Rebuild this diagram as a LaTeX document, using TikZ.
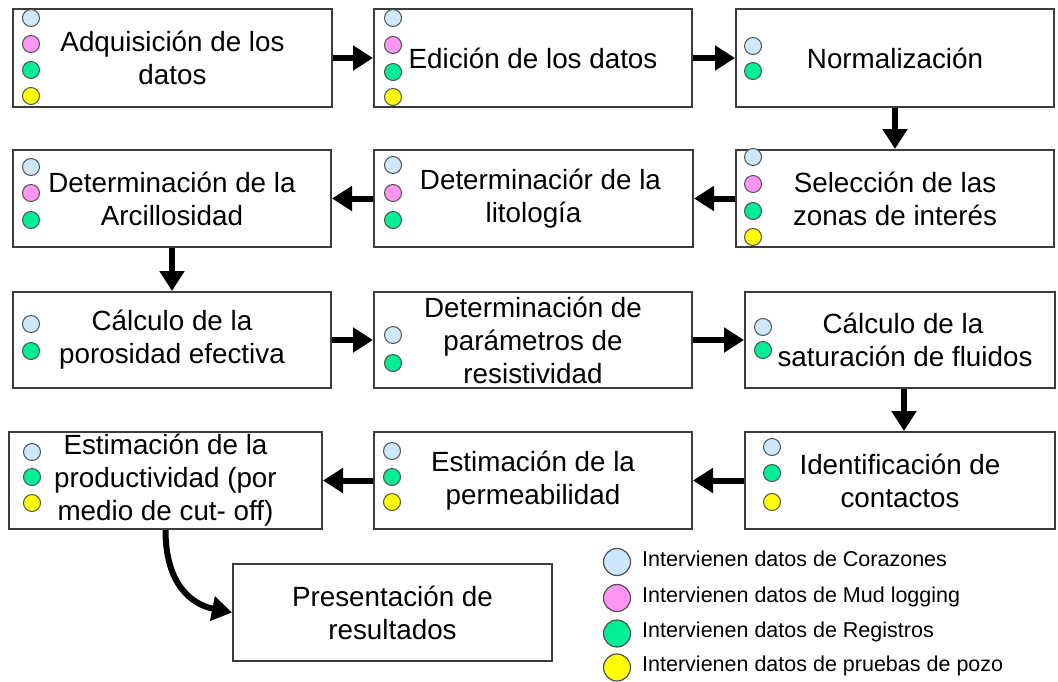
\documentclass[tikz,border=0pt]{standalone}
\usepackage{fontspec}
\setmainfont{Liberation Sans}
\usetikzlibrary{arrows.meta}
\definecolor{boxgray}{RGB}{60,60,60}
\definecolor{dotgray}{RGB}{80,80,80}
\definecolor{cb}{RGB}{205,232,250}
\definecolor{cp}{RGB}{255,150,245}
\definecolor{cg}{RGB}{0,238,150}
\definecolor{cy}{RGB}{255,255,0}
\tikzset{
  stepbox/.style={draw=boxgray, line width=2pt, fill=white, inner sep=0pt, align=center,
    font=\fontsize{27.8}{33}\selectfont},
  dot/.style={circle, draw=dotgray, line width=1pt, minimum size=17pt, inner sep=0pt},
  bigdot/.style={circle, draw=dotgray, line width=1.2pt, minimum size=27pt, inner sep=0pt},
  legtext/.style={anchor=base west, inner sep=0pt, font=\fontsize{21.5}{25}\selectfont},
  arr/.style={line width=6pt, -{Triangle[length=20pt,width=24pt]}},
}
\begin{document}
\begin{tikzpicture}[x=1pt,y=-1pt]
\useasboundingbox (0,0) rectangle (1058,681);
% boxes
\node[stepbox, minimum width=319pt, minimum height=98pt] (A1) at (172.5,58) {Adquisición de los\\datos};
\node[stepbox, minimum width=318pt, minimum height=98pt] (A2) at (533,58) {Edición de los datos};
\node[stepbox, minimum width=318pt, minimum height=98pt] (A3) at (895,58) {Normalización};
\node[stepbox, minimum width=318pt, minimum height=97pt] (B3) at (895,198.5) {Selección de las\\zonas de interés};
\node[stepbox, minimum width=319pt, minimum height=97pt] (B2) at (533.5,198.5) {\hspace*{14pt}Determinaciór de la\\litología};
\node[stepbox, minimum width=318pt, minimum height=97pt] (B1) at (172,198.5) {Determinación de la\\Arcillosidad};
\node[stepbox, minimum width=318pt, minimum height=96pt] (C1) at (172,340) {Cálculo de la\\porosidad efectiva};
\node[stepbox, minimum width=318pt, minimum height=96pt] (C2) at (533,340) {Determinación de\\parámetros de\\resistividad};
\node[stepbox, minimum width=310pt, minimum height=96pt] (C3) at (900,340) {\hspace*{6pt}Cálculo de la\\\hspace*{10pt}saturación de fluidos};
\node[stepbox, minimum width=310pt, minimum height=97pt] (D3) at (900,480.5) {Identificación de\\contactos};
\node[stepbox, minimum width=318pt, minimum height=97pt] (D2) at (533,480.5) {Estimación de la\\permeabilidad};
\node[stepbox, minimum width=313pt, minimum height=97pt] (D1) at (165.5,480.5) {Estimación de la\\productividad (por\\medio de cut- off)};
\node[stepbox, minimum width=319pt, minimum height=97pt] (E) at (392.5,612.5) {Presentación de\\resultados};
% dots
\node[dot, fill=cb] (A1b) at (31,18) {};
\node[dot, fill=cp] (A1p) at (31,44) {};
\node[dot, fill=cg] (A1g) at (31,70) {};
\node[dot, fill=cy] (A1y) at (31,96) {};
\node[dot, fill=cb] (A2b) at (393,18) {};
\node[dot, fill=cp] (A2p) at (393,45) {};
\node[dot, fill=cg] (A2g) at (393,72) {};
\node[dot, fill=cy] (A2y) at (393,97) {};
\node[dot, fill=cb] (A3b) at (753,46) {};
\node[dot, fill=cg] (A3g) at (753,71) {};
\node[dot, fill=cb] (B3b) at (753,157) {};
\node[dot, fill=cp] (B3p) at (753,184) {};
\node[dot, fill=cg] (B3g) at (753,211) {};
\node[dot, fill=cy] (B3y) at (753,237) {};
\node[dot, fill=cb] (B2b) at (393,165) {};
\node[dot, fill=cp] (B2p) at (393,193) {};
\node[dot, fill=cg] (B2g) at (393,220) {};
\node[dot, fill=cb] (B1b) at (31,167) {};
\node[dot, fill=cp] (B1p) at (31,193) {};
\node[dot, fill=cg] (B1g) at (31,220) {};
\node[dot, fill=cb] (C1b) at (31,324) {};
\node[dot, fill=cg] (C1g) at (31,351) {};
\node[dot, fill=cb] (C2b) at (393,335) {};
\node[dot, fill=cg] (C2g) at (393,363) {};
\node[dot, fill=cb] (C3b) at (763,327) {};
\node[dot, fill=cg] (C3g) at (763,350) {};
\node[dot, fill=cb] (D3b) at (772,447) {};
\node[dot, fill=cg] (D3g) at (772,473) {};
\node[dot, fill=cy] (D3y) at (772,502) {};
\node[dot, fill=cb] (D2b) at (392,451) {};
\node[dot, fill=cg] (D2g) at (392,477) {};
\node[dot, fill=cy] (D2y) at (392,502) {};
\node[dot, fill=cb] (D1b) at (32,452) {};
\node[dot, fill=cg] (D1g) at (32,477) {};
\node[dot, fill=cy] (D1y) at (32,503) {};
% arrows
\draw[arr] (A1.east) -- (A2.west);
\draw[arr] (A2.east) -- (A3.west);
\draw[arr] (A3.south) -- (B3.north);
\draw[arr] (B3.west) -- (B2.east);
\draw[arr] (B2.west) -- (B1.east);
\draw[arr] (B1.south) -- (C1.north);
\draw[arr] (C1.east) -- (C2.west);
\draw[arr] (C2.east) -- (C3.west);
\draw[arr] ([xshift=4pt]C3.south) -- ([xshift=4pt]D3.north);
\draw[arr] (D3.west) -- (D2.east);
\draw[arr] (D2.west) -- (D1.east);
\draw[arr] (D1.south) .. controls +(0,55) and +(-40,-8) .. (E.west);
% legend
\node[bigdot, fill=cb] (L1) at (617,562) {};
\node[bigdot, fill=cp] (L2) at (617,598) {};
\node[bigdot, fill=cg] (L3) at (617,633.5) {};
\node[bigdot, fill=cy] (L4) at (617,667.5) {};
\node[legtext] (T1) at (642,566) {Intervienen datos de Corazones};
\node[legtext] (T2) at (642,602) {Intervienen datos de Mud logging};
\node[legtext] (T3) at (642,637) {Intervienen datos de Registros};
\node[legtext] (T4) at (642,671) {Intervienen datos de pruebas de pozo};
\end{tikzpicture}
\end{document}
